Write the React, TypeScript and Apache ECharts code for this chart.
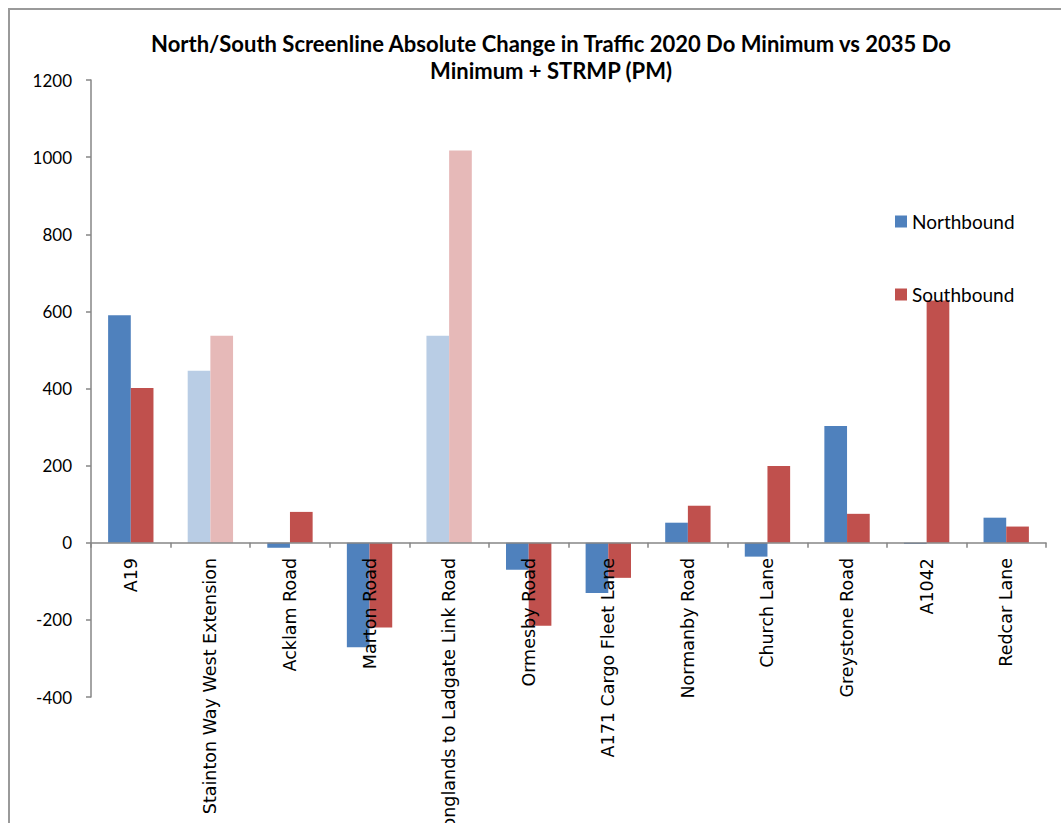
import React, { useEffect, useRef } from "react";
import * as echarts from "echarts";

const categories = [
  "A19",
  "Stainton Way West Extension",
  "Acklam Road",
  "Marton Road",
  "Longlands to Ladgate Link Road",
  "Ormesby Road",
  "A171 Cargo Fleet Lane",
  "Normanby Road",
  "Church Lane",
  "Greystone Road",
  "A1042",
  "Redcar Lane",
];
const northbound = [590, 446, -13, -271, 537, -70, -130, 52, -36, 303, -3, 65];
const southbound = [401, 537, 80, -220, 1017, -215, -91, 96, 199, 75, 628, 42];
const lightIdx = [1, 4];
const titleLines = [
  "North/South Screenline Absolute Change in Traffic 2020 Do Minimum vs 2035 Do",
  "Minimum + STRMP (PM)",
];

const N_COLOR = "#4F81BD";
const S_COLOR = "#C0504D";
const N_LIGHT = "#B9CDE5";
const S_LIGHT = "#E6B9B8";

export default function App() {
  const ref = useRef<HTMLDivElement>(null);
  useEffect(() => {
    document.body.style.overflow = "hidden";
    document.documentElement.style.overflow = "hidden";
    if (!ref.current) return;
    const chart = echarts.init(ref.current, undefined, { renderer: "svg" });
    const mk = (vals: number[], c: string, lc: string) =>
      vals.map((v, i) => ({
        value: v,
        itemStyle: { color: lightIdx.includes(i) ? lc : c },
      }));
    chart.setOption({
      animation: false,
      backgroundColor: "#ffffff",
      graphic: titleLines.map((t, i) => ({
        type: "text",
        x: 541,
        y: 33 + i * 27,
        style: {
          text: t,
          fontFamily: "Lato",
          fontWeight: "bold",
          fontSize: 22,
          fill: "#000",
          textAlign: "center",
          textVerticalAlign: "middle",
        },
      })),
      legend: {
        orient: "vertical",
        left: 880,
        top: 197,
        itemWidth: 12,
        itemHeight: 12,
        itemGap: 54,
        icon: "rect",
        textStyle: { fontFamily: "Lato", fontSize: 19, color: "#000" },
        data: ["Northbound", "Southbound"],
      },
      grid: {
        left: 81,
        top: 70,
        width: 955,
        height: 617,
        containLabel: false,
        outerBoundsMode: "none",
      },
      xAxis: {
        type: "category",
        data: categories,
        z: 10,
        axisLine: { onZero: true, lineStyle: { color: "#868686", width: 1.5 } },
        axisTick: { show: true, length: 5, lineStyle: { color: "#868686", width: 1.5 } },
        axisLabel: {
          rotate: 90,
          interval: 0,
          margin: -139,
          fontFamily: "DejaVu Sans",
          fontSize: 17.5,
          color: "#000",
        },
        splitLine: { show: false },
      },
      yAxis: {
        type: "value",
        min: -400,
        max: 1200,
        interval: 200,
        axisLine: { show: true, lineStyle: { color: "#868686", width: 1.5 } },
        axisTick: { show: true, length: 5, lineStyle: { color: "#868686", width: 1.5 } },
        axisLabel: {
          margin: 19,
          fontFamily: "Lato",
          fontSize: 17,
          color: "#000",
          formatter: (v: number) => String(v),
        },
        splitLine: { show: false },
      },
      series: [
        {
          name: "Northbound",
          type: "bar",
          data: mk(northbound, N_COLOR, N_LIGHT),
          itemStyle: { color: N_COLOR },
          barGap: "0%",
          barCategoryGap: "43%",
        },
        {
          name: "Southbound",
          type: "bar",
          data: mk(southbound, S_COLOR, S_LIGHT),
          itemStyle: { color: S_COLOR },
          barGap: "0%",
          barCategoryGap: "43%",
        },
      ],
    });
    return () => chart.dispose();
  }, []);
  return (
    <div
      style={{
        position: "absolute",
        left: 8,
        top: 8,
        borderLeft: "2px solid #9a9a9a",
        borderTop: "2px solid #9a9a9a",
      }}
    >
      <div ref={ref} style={{ width: 1051, height: 813 }} />
    </div>
  );
}
